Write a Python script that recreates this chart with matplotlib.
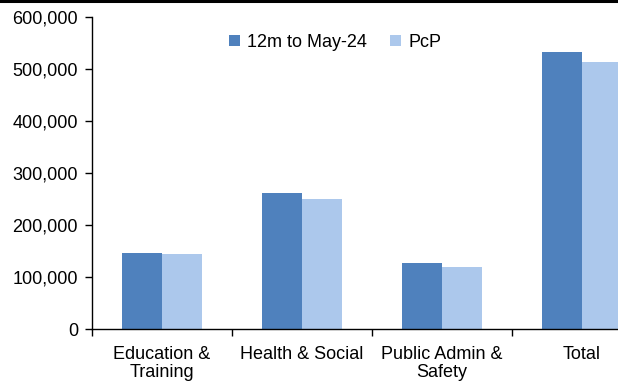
import matplotlib
matplotlib.use("Agg")
import matplotlib.pyplot as plt
import numpy as np
from matplotlib.ticker import FuncFormatter, FixedLocator

categories = ["Education &\nTraining", "Health & Social", "Public Admin &\nSafety", "Total"]
series_names = ["12m to May-24", "PcP"]
current = [146000, 260500, 126000, 532000]
prior = [144000, 249500, 118500, 513000]
y_ticks = [0, 100000, 200000, 300000, 400000, 500000, 600000]

dark = "#4F81BD"
light = "#ACC8EC"

plt.rcParams["font.family"] = ["Liberation Sans", "DejaVu Sans"]
fs = 13

W, H = 618, 383
fig = plt.figure(figsize=(W / 100, H / 100), dpi=100)
ax = fig.add_axes([92 / W, (H - 329) / H, 560 / W, 312.5 / H])

x = np.arange(len(categories))
bw = 0.2857
ax.bar(x - bw / 2, current, width=bw, color=dark, label=series_names[0], zorder=2)
ax.bar(x + bw / 2, prior, width=bw, color=light, label=series_names[1], zorder=2)

ax.set_xlim(-0.5, len(categories) - 0.5)
ax.set_ylim(0, 600000)
ax.set_yticks(y_ticks)
ax.yaxis.set_major_formatter(FuncFormatter(lambda v, p: f"{int(v):,}"))

ax.set_xticks(x)
ax.set_xticklabels(categories, fontsize=fs, linespacing=1.1)
ax.tick_params(axis="x", length=0, pad=12)
ax.xaxis.set_minor_locator(FixedLocator(np.arange(-0.5, len(categories), 1.0)))
ax.tick_params(axis="x", which="minor", length=5, width=1, direction="out")
ax.tick_params(axis="y", length=5, width=1, direction="out", labelsize=fs, pad=5)

for s in ["top", "right"]:
    ax.spines[s].set_visible(False)
for s in ["left", "bottom"]:
    ax.spines[s].set_linewidth(1)
    ax.spines[s].set_color("black")

ax.legend(loc="center", bbox_to_anchor=(0.434, 0.918), ncol=2, frameon=False,
          fontsize=fs, handlelength=0.6, handleheight=0.6, handletextpad=0.4,
          columnspacing=1.3, borderaxespad=0, borderpad=0)

# Rule across the top of the figure
fig.add_artist(plt.Line2D([0, 1], [1 - 1.2 / H, 1 - 1.2 / H], color="black", linewidth=2.2,
                          transform=fig.transFigure))

fig.savefig("out.png", dpi=100)
